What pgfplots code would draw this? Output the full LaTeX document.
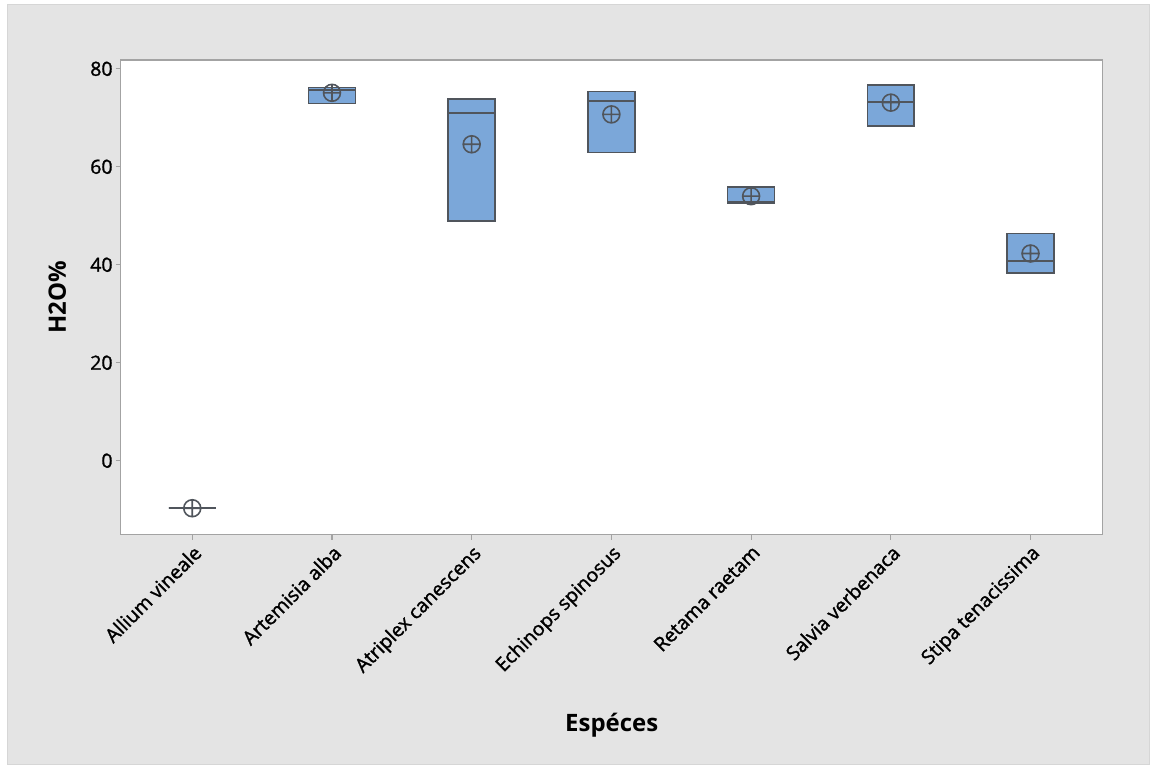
\documentclass[border=0pt]{standalone}
\usepackage{pgfplots}
\pgfplotsset{compat=1.18}
\usepgfplotslibrary{statistics}
\usepackage{fontspec}
\setmainfont{Open Sans}
\newfontfamily\ticksfont{Open Sans}[FakeBold=1.5]

\definecolor{panel}{HTML}{E4E4E4}
\definecolor{panelline}{HTML}{D6D6D6}
\definecolor{boxfill}{HTML}{7BA7D9}
\definecolor{boxedge}{HTML}{50555C}
\definecolor{frame}{HTML}{A3A3A3}

\pgfplotsset{
  h2obox/.style={
    boxplot prepared={#1},
    boxplot/draw direction=y,
    draw=boxedge, fill=boxfill, line width=1.7pt,
    boxplot/box extend=0.336,
    boxplot/whisker extend=0.336,
    boxplot/every median/.style={draw=boxedge, line width=2pt},
    boxplot/every whisker/.style={draw=boxedge, line width=1.7pt},
  },
}

\begin{document}
\begin{tikzpicture}
  % page and grey panel
  \fill[white] (0pt,0pt) rectangle (1150pt,764pt);
  \filldraw[fill=panel, draw=panelline, line width=1pt] (8pt,-2pt) rectangle (1152pt,759pt);
  \path[use as bounding box] (0pt,0pt) rectangle (1150pt,764pt);

  \begin{axis}[
    at={(121pt,228.3pt)}, anchor=south west,
    scale only axis, width=984pt, height=475.7pt,
    xmin=-0.512, xmax=6.516, ymin=-15.07, ymax=81.83,
    axis background/.style={fill=white},
    axis line style={draw=frame, line width=1.5pt},
    xtick={0,1,2,3,4,5,6},
    xticklabels={Allium vineale, Artemisia alba, Atriplex canescens, Echinops spinosus, Retama raetam, Salvia verbenaca, Stipa tenacissima},
    ytick={0,20,40,60,80},
    xtick pos=bottom, ytick pos=left,
    tick align=outside, major tick length=5pt,
    tick style={draw=frame, line width=1.2pt},
    /pgf/number format/assume math mode=true,
    tick label style={font=\ticksfont\fontsize{19.5}{23}\selectfont, text=black},
    xticklabel style={rotate=45, anchor=north east, inner sep=3pt},
    yticklabel style={inner sep=3pt},
    xlabel={Espéces}, ylabel={H2O\%},
    label style={font=\fontsize{24}{28}\selectfont\bfseries},
    xlabel style={at={(axis description cs:0.5,-0.4020)}, anchor=center},
    ylabel style={at={(axis description cs:-0.0645,0.5)}, anchor=center},
  ]
    % quartiles and medians per species (no whiskers shown)
    \addplot[h2obox={draw position=0, lower whisker=-9.7, lower quartile=-9.7, median=-9.7, upper quartile=-9.7, upper whisker=-9.7}] coordinates {};
    \addplot[h2obox={draw position=1, lower whisker=72.9, lower quartile=72.9, median=75.7, upper quartile=76.2, upper whisker=76.2}] coordinates {};
    \addplot[h2obox={draw position=2, lower whisker=48.9, lower quartile=48.9, median=70.9, upper quartile=73.8, upper whisker=73.8}] coordinates {};
    \addplot[h2obox={draw position=3, lower whisker=62.9, lower quartile=62.9, median=73.4, upper quartile=75.4, upper whisker=75.4}] coordinates {};
    \addplot[h2obox={draw position=4, lower whisker=52.6, lower quartile=52.6, median=52.8, upper quartile=55.9, upper whisker=55.9}] coordinates {};
    \addplot[h2obox={draw position=5, lower whisker=68.4, lower quartile=68.4, median=73.3, upper quartile=76.7, upper whisker=76.7}] coordinates {};
    \addplot[h2obox={draw position=6, lower whisker=38.3, lower quartile=38.3, median=40.7, upper quartile=46.4, upper whisker=46.4}] coordinates {};

    % means
    \addplot[only marks, mark=oplus, mark size=8.5pt, draw=boxedge, line width=1.6pt]
      coordinates {(0,-9.7) (1,75.1) (2,64.6) (3,70.7) (4,54.0) (5,73.1) (6,42.3)};
  \end{axis}
\end{tikzpicture}
\end{document}
